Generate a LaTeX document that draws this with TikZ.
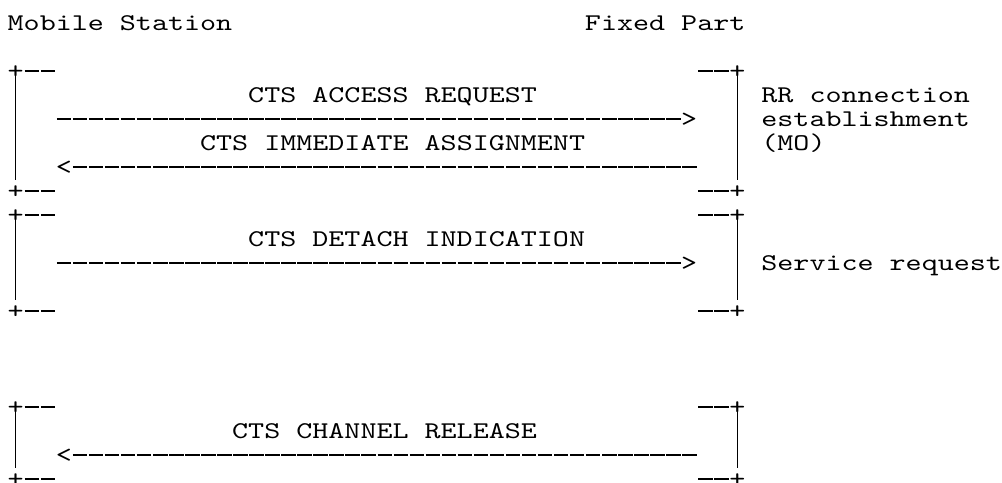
\documentclass[tikz,border=0pt]{standalone}
\usepackage{fontspec}
\usepackage{xcolor}
\usepackage{tikz}
\usetikzlibrary{positioning}
\newfontfamily\asciifont[FakeStretch=1.273]{lmmono10-regular.otf}
\tikzstyle{glyph} = [inner sep=0pt, outer sep=0pt, text height=19pt,
    text depth=4.2pt, font=\asciifont\fontsize{24pt}{29pt}\selectfont]
\tikzstyle{txt} = [glyph, anchor=west]
\tikzstyle{bar} = [draw, line width=1.6pt]
\tikzstyle{msg} = [draw, line width=1.8pt, dash pattern=on 14.5pt off 1.536pt]

\begin{document}
\begin{tikzpicture}[x=16.036pt, y=-24pt]
  \useasboundingbox (-0.4789,-0.9458) rectangle (62.005,19.1375);
  % Place nodes
  \node [txt] (ms) at (0,0) {Mobile Station};
  \node [txt] (fp) at (36,0) {Fixed Part};

  % RR connection establishment
  \node [glyph] (tl1) at (0.5,2) {+};
  \node [glyph] (tr1) at (45.5,2) {+};
  \node [glyph] (bl1) at (0.5,7) {+};
  \node [glyph] (br1) at (45.5,7) {+};
  \path [bar] (tl1.center) -- ([yshift=-1pt]bl1.north);
  \path [bar] (tr1.center) -- ([yshift=-1pt]br1.north);
  \path [msg] ([xshift=1pt]tl1.east) -- ([xshift=32.5pt]tl1.east);
  \path [msg] ([xshift=1pt]bl1.east) -- ([xshift=32.5pt]bl1.east);
  \path [msg] ([xshift=-31.07pt]tr1.west) -- ([xshift=-0.5pt]tr1.west);
  \path [msg] ([xshift=-31.07pt]br1.west) -- ([xshift=-0.5pt]br1.west);

  \node [txt] (m1) at (15,3) {CTS ACCESS REQUEST};
  \coordinate (s1) at (3.0624,4);
  \node [glyph] (h1) at (42.5,4) {>};
  \path [msg] (s1) -- ([xshift=-0.5pt]h1.west);

  \node [txt] (m2) at (12,5) {CTS IMMEDIATE ASSIGNMENT};
  \node [glyph] (h2) at (3.5,6) {<};
  \coordinate (e2) at (42.969,6);
  \path [msg] ([xshift=1pt]h2.east) -- (e2);

  \node [txt] (rr1) at (47,3) {RR connection};
  \node [txt] (rr2) at (47,4) {establishment};
  \node [txt] (rr3) at (47,5) {(MO)};

  % Service request
  \node [glyph] (tl2) at (0.5,8) {+};
  \node [glyph] (tr2) at (45.5,8) {+};
  \node [glyph] (bl2) at (0.5,12) {+};
  \node [glyph] (br2) at (45.5,12) {+};
  \path [bar] (tl2.center) -- ([yshift=-1pt]bl2.north);
  \path [bar] (tr2.center) -- ([yshift=-1pt]br2.north);
  \path [msg] ([xshift=1pt]tl2.east) -- ([xshift=32.5pt]tl2.east);
  \path [msg] ([xshift=1pt]bl2.east) -- ([xshift=32.5pt]bl2.east);
  \path [msg] ([xshift=-31.07pt]tr2.west) -- ([xshift=-0.5pt]tr2.west);
  \path [msg] ([xshift=-31.07pt]br2.west) -- ([xshift=-0.5pt]br2.west);

  \node [txt] (m3) at (15,9) {CTS DETACH INDICATION};
  \coordinate (s3) at (3.0624,10);
  \node [glyph] (h3) at (42.5,10) {>};
  \path [msg] (s3) -- ([xshift=-0.5pt]h3.west);

  \node [txt] (sr) at (47,10) {Service request};

  % Channel release
  \node [glyph] (tl3) at (0.5,16) {+};
  \node [glyph] (tr3) at (45.5,16) {+};
  \node [glyph] (bl3) at (0.5,19) {+};
  \node [glyph] (br3) at (45.5,19) {+};
  \path [bar] (tl3.center) -- ([yshift=-1pt]bl3.north);
  \path [bar] (tr3.center) -- ([yshift=-1pt]br3.north);
  \path [msg] ([xshift=1pt]tl3.east) -- ([xshift=32.5pt]tl3.east);
  \path [msg] ([xshift=1pt]bl3.east) -- ([xshift=32.5pt]bl3.east);
  \path [msg] ([xshift=-31.07pt]tr3.west) -- ([xshift=-0.5pt]tr3.west);
  \path [msg] ([xshift=-31.07pt]br3.west) -- ([xshift=-0.5pt]br3.west);

  \node [txt] (m4) at (14,17) {CTS CHANNEL RELEASE};
  \node [glyph] (h4) at (3.5,18) {<};
  \coordinate (e4) at (42.969,18);
  \path [msg] ([xshift=1pt]h4.east) -- (e4);

\end{tikzpicture}
\end{document}
